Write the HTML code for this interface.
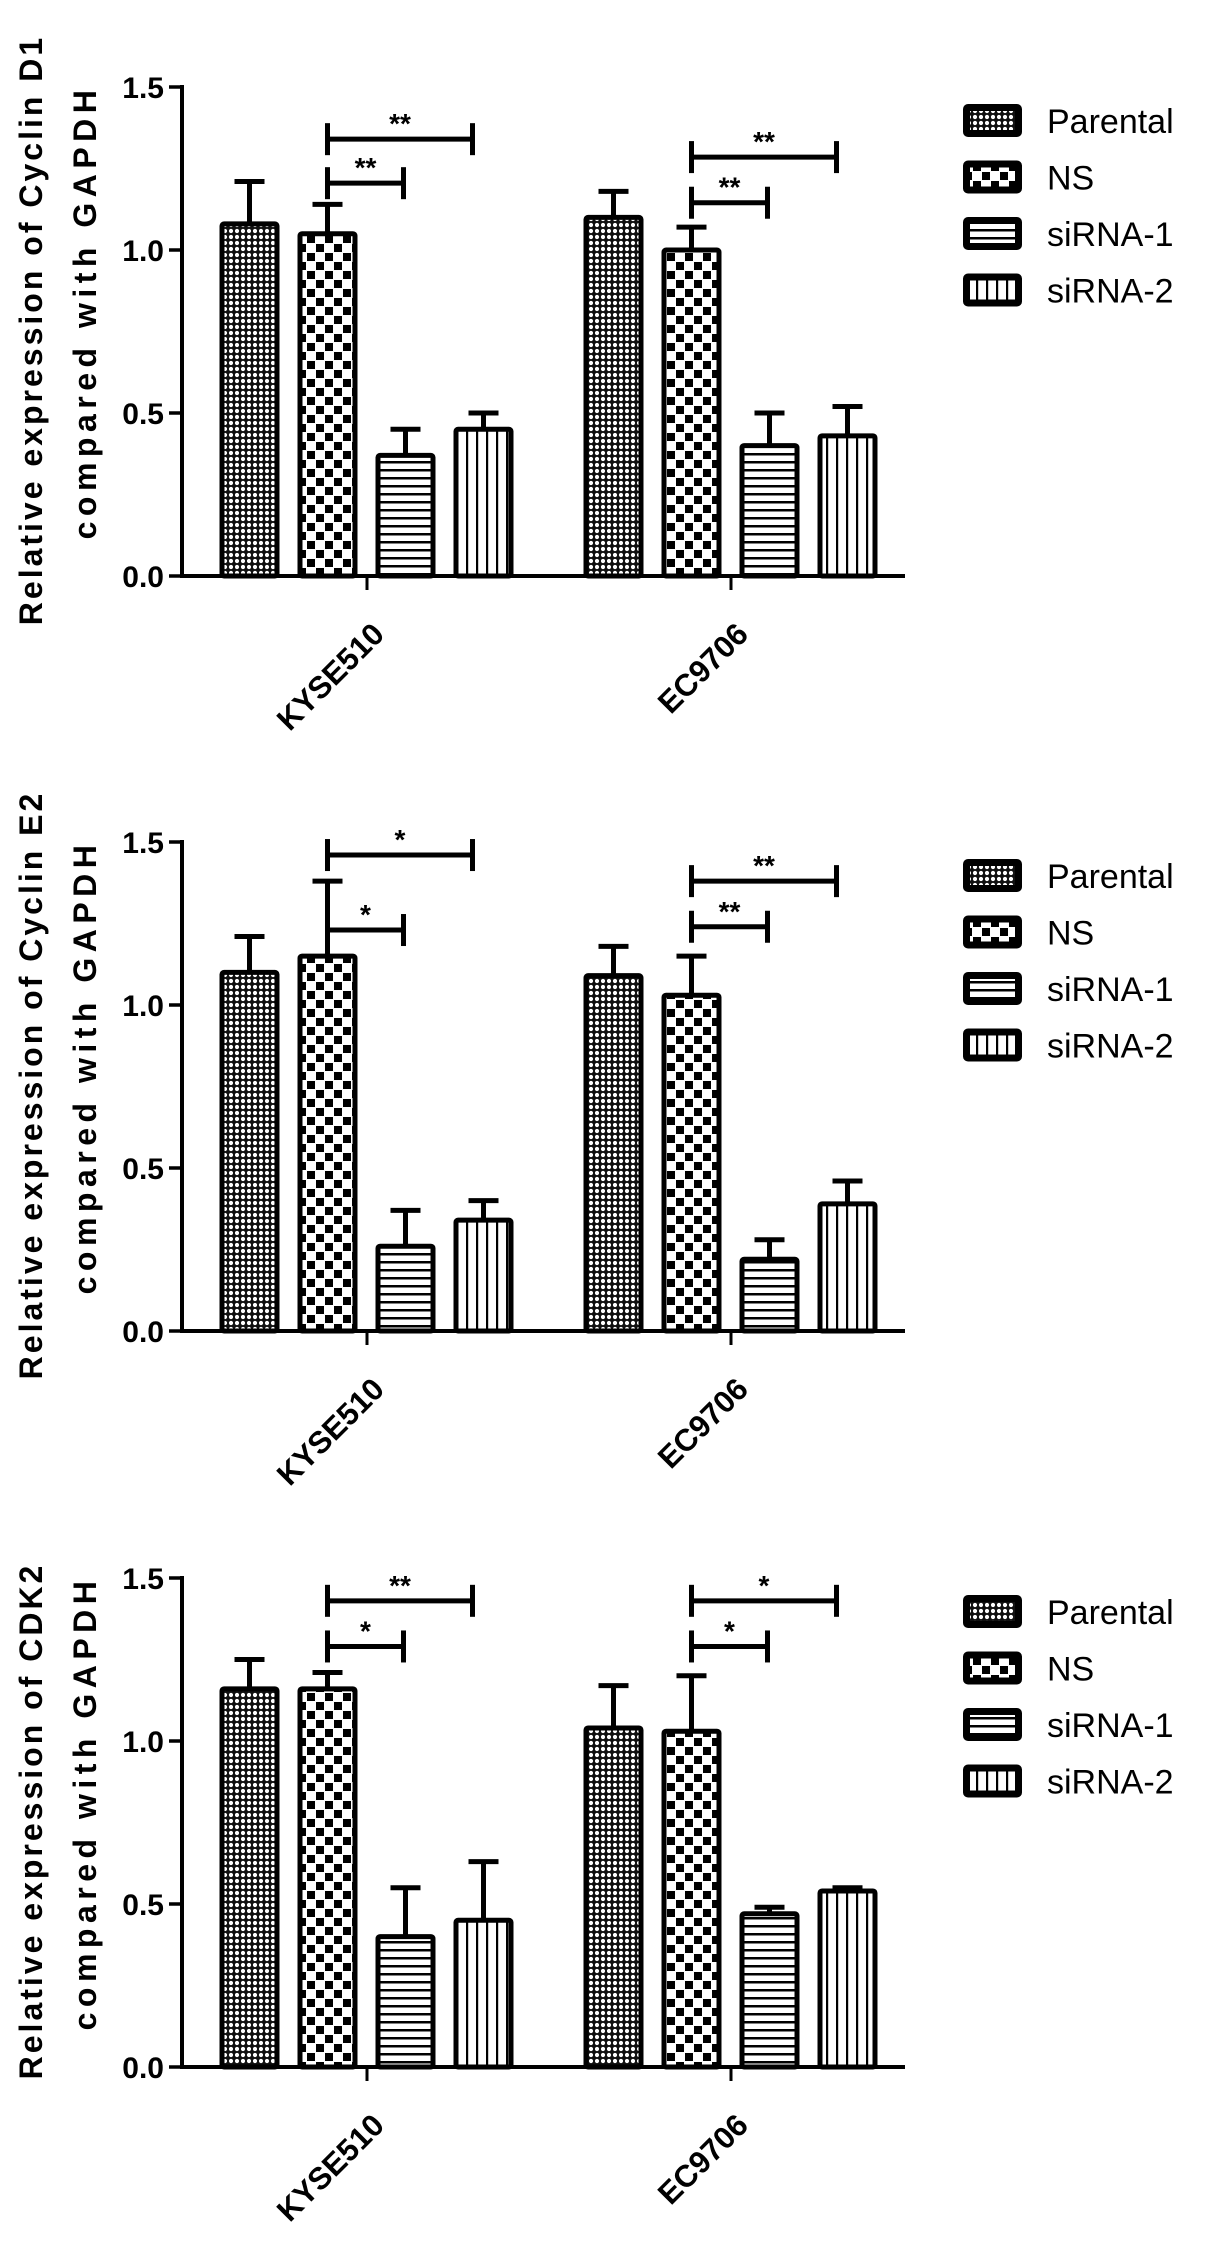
<!DOCTYPE html>
<html><head><meta charset="utf-8"><style>
body{margin:0;background:#fff}
svg{display:block}
text{font-family:"Liberation Sans",Arial,sans-serif;fill:#000}
</style></head><body>
<svg id="fig" width="1205" height="2244" viewBox="0 0 1205 2244" xmlns="http://www.w3.org/2000/svg">
<defs>
<pattern id="p-dots" width="6" height="6" patternUnits="userSpaceOnUse"><rect width="6" height="6" fill="#111"/><circle cx="3" cy="3" r="2.1" fill="#fff"/></pattern>
<pattern id="p-check" width="18" height="18" patternUnits="userSpaceOnUse"><rect width="18" height="18" fill="#fff"/><rect x="1" y="1" width="8" height="8" fill="#000"/><rect x="10" y="10" width="8" height="8" fill="#000"/></pattern>
<pattern id="p-hor" width="8" height="8" patternUnits="userSpaceOnUse"><rect width="8" height="8" fill="#fff"/><rect y="5" width="8" height="2.5" fill="#000"/></pattern>
<pattern id="p-ver" width="10" height="10" patternUnits="userSpaceOnUse"><rect width="10" height="10" fill="#fff"/><rect x="6" width="2.2" height="10" fill="#000"/></pattern>
</defs>
</svg>
<script>
const seriesNames = ["Parental","NS","siRNA-1","siRNA-2"];
const groupNames = ["KYSE510","EC9706"];
const tickValues = [0.0,0.5,1.0,1.5];
const tickLabels = ["0.0","0.5","1.0","1.5"];
const panelTitles1 = ["Relative expression of Cyclin D1","Relative expression of Cyclin E2","Relative expression of CDK2"];
const panelTitles2 = ["compared with GAPDH","compared with GAPDH","compared with GAPDH"];
// means [panel][group][series]
const means = [
 [[1.08,1.05,0.37,0.45],[1.10,1.00,0.40,0.43]],
 [[1.10,1.15,0.26,0.34],[1.09,1.03,0.22,0.39]],
 [[1.16,1.16,0.40,0.45],[1.04,1.03,0.47,0.54]]
];
const errors = [
 [[0.13,0.09,0.08,0.05],[0.08,0.07,0.10,0.09]],
 [[0.11,0.23,0.11,0.06],[0.09,0.12,0.06,0.07]],
 [[0.09,0.05,0.15,0.18],[0.13,0.17,0.02,0.01]]
];
const sigUpper = [[1.34,1.285],[1.46,1.38],[1.43,1.43]];
const sigLower = [[1.205,1.145],[1.23,1.24],[1.29,1.29]];
const sigUpperLbl = [["**","**"],["*","**"],["**","*"]];
const sigLowerLbl = [["**","**"],["*","**"],["*","*"]];

const NS="http://www.w3.org/2000/svg";
const svg=document.getElementById('fig');
const fills=["url(#p-dots)","url(#p-check)","url(#p-hor)","url(#p-ver)"];
const panelOff=[0,755,1491];
const barW=55, pitch=78, grpStart=[222,586], axX=182;
function mk(tag,attrs,parent){const e=document.createElementNS(NS,tag);for(const k in attrs)e.setAttribute(k,attrs[k]);(parent||svg).appendChild(e);return e;}
function line(x1,y1,x2,y2,w,p){return mk('line',{x1,y1,x2,y2,stroke:'#000','stroke-width':w,'stroke-linecap':'butt'},p);}

for(let p=0;p<3;p++){
  const off=panelOff[p];
  const y0=576+off, scale=326;
  const Y=v=>y0-v*scale;
  const g=mk('g',{});
  
  
  const ya=line(axX,Y(1.5)-2,axX,y0+2,4,g);
  
  
  tickValues.forEach((v,i)=>{
    line(169,Y(v),axX,Y(v),3.5,g);
    const t=mk('text',{x:164,y:Y(v)+11,'text-anchor':'end','font-size':30,'font-weight':'bold'},g);
    t.textContent=tickLabels[i];
    
    
  });
  const xa=line(axX-2,y0,905,y0,4,g);
  
  
  const t1=mk('text',{x:0,y:0,'text-anchor':'middle','font-size':32,'font-weight':'bold','letter-spacing':3.0,transform:`translate(42,${330+off}) rotate(-90)`},g);
  t1.textContent=panelTitles1[p];
  
  
  const t2=mk('text',{x:0,y:0,'text-anchor':'middle','font-size':32,'font-weight':'bold','letter-spacing':5.5,transform:`translate(96,${312+off}) rotate(-90)`},g);
  t2.textContent=panelTitles2[p];
  
  
  for(let gi=0;gi<2;gi++){
    const gx=grpStart[gi];
    const tickX=gx+pitch*2-11;
    line(tickX,y0,tickX,y0+14,3,g);
    const xl=mk('text',{x:0,y:0,'text-anchor':'end','font-size':31,'font-weight':'bold',transform:`translate(${tickX+19},${y0+60}) rotate(-45)`},g);
    xl.textContent=groupNames[gi];
    
    
    for(let s=0;s<4;s++){
      const x=gx+s*pitch, v=means[p][gi][s], e=errors[p][gi][s];
      const cx=x+barW/2;
      const eb=mk('g',{},g);
      
      
      line(cx,Y(v),cx,Y(v+e),5,eb);
      line(cx-15,Y(v+e),cx+15,Y(v+e),5,eb);
      const r=mk('rect',{x:x,y:Y(v),width:barW,height:v*scale,fill:fills[s],stroke:'#000','stroke-width':5,rx:2},g);
      
      
    }
    const bx=gx+pitch+barW/2;
    const specs=[[sigUpper[p][gi],145,sigUpperLbl[p][gi]],[sigLower[p][gi],76,sigLowerLbl[p][gi]]];
    specs.forEach(([v,len,lbl],k)=>{
      const bg=mk('g',{},g);
      
      
      const yy=Y(v);
      line(bx,yy,bx+len,yy,5,bg);
      line(bx,yy-16,bx,yy+16,5,bg);
      line(bx+len,yy-16,bx+len,yy+16,5,bg);
      const st=mk('text',{x:bx+len/2,y:yy-6,'text-anchor':'middle','font-size':28,'font-weight':'bold'},bg);
      st.textContent=lbl;
    });
  }
  const lg=mk('g',{},g);
  
  
  seriesNames.forEach((n,s)=>{
    const ty=104+off+s*56.5;
    const eg=mk('g',{},lg);
    
    
    mk('rect',{x:963,y:ty,width:59,height:33,rx:5,fill:'#000'},eg);
    mk('rect',{x:970,y:ty+7,width:45,height:19,fill:fills[s]},eg);
    const tt=mk('text',{x:1047,y:ty+29,'font-size':34},eg);
    tt.textContent=n;
  });
}
</script>
</body></html>
